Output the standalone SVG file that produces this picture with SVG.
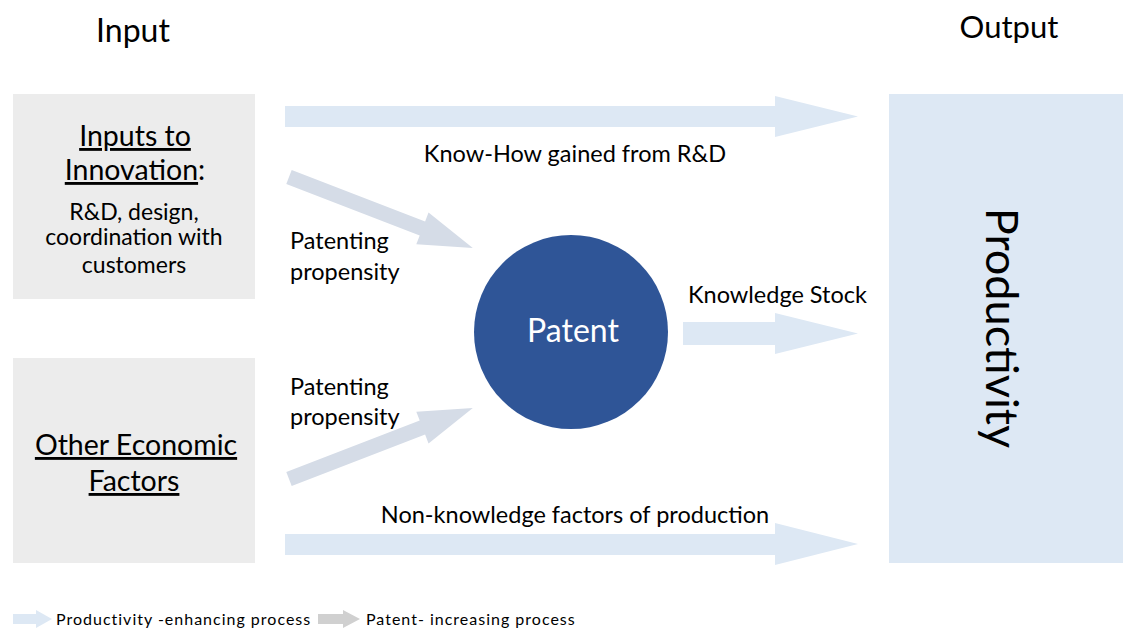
<svg xmlns="http://www.w3.org/2000/svg" width="1123" height="628" viewBox="0 0 1123 628">
  <defs>
    <style>
      text { font-family: Lato, "Noto Sans", "Liberation Sans", sans-serif; fill: #000; }
      .box { fill: #ececec; }
      .big { font-size: 28.5px; }
      .ul { text-decoration: underline; }
      .mid { font-size: 23px; }
      .lbl { font-size: 23.5px; }
      .leg { font-size: 16px; letter-spacing: 1px; }
      .flow { fill: #dde8f4; }
      .pat { fill: #d5dce7; }
      .patleg { fill: #d0d0d0; }
    </style>
  </defs>
  <rect width="1123" height="628" fill="#ffffff"/>

  <text x="133" y="42" text-anchor="middle" style="font-size:32px">Input</text>
  <text x="1009" y="38" text-anchor="middle" style="font-size:31px">Output</text>

  <g id="inputs-to-innovation">
    <rect class="box" x="13" y="94" width="242" height="205"/>
    <text class="big ul" x="135" y="146" text-anchor="middle">Inputs to</text>
    <text class="big" x="135" y="180" text-anchor="middle"><tspan class="ul">Innovation</tspan>:</text>
    <text class="mid" x="134" y="220" text-anchor="middle">R&amp;D, design,</text>
    <text class="mid" x="134" y="245" text-anchor="middle">coordination with</text>
    <text class="mid" x="134" y="273" text-anchor="middle">customers</text>
  </g>

  <g id="other-economic-factors">
    <rect class="box" x="13" y="358" width="242" height="205"/>
    <text class="big ul" x="136" y="455" text-anchor="middle">Other Economic</text>
    <text class="big ul" x="134" y="491" text-anchor="middle">Factors</text>
  </g>

  <g id="patent">
    <circle cx="571" cy="332" r="97" fill="#2f5597"/>
    <text x="573" y="342" text-anchor="middle" style="font-size:32px;fill:#ffffff">Patent</text>
  </g>

  <g id="productivity">
    <rect x="889" y="94" width="234" height="469" fill="#dde8f4"/>
    <text x="1003" y="328" text-anchor="middle" dominant-baseline="central" transform="rotate(90 1003 328)" style="font-size:45px">Productivity</text>
  </g>

  <g id="connectors">
    <!-- know-how arrow -->
    <polygon class="flow" points="285,106 775,106 775,96 858,116.5 775,137 775,127 285,127"/>
    <!-- knowledge stock arrow -->
    <polygon class="flow" points="683,322 775,322 775,313 858,333.5 775,354 775,345 683,345"/>
    <!-- non-knowledge factors arrow -->
    <polygon class="flow" points="285,534 775,534 775,523 858,544 775,565 775,555 285,555"/>
    <!-- patenting propensity arrows -->
    <polygon class="pat" transform="translate(289,177) rotate(21.1)" points="0,-7.5 143,-7.5 143,-17 197,0 143,17 143,7.5 0,7.5"/>
    <polygon class="pat" transform="translate(289,479) rotate(-21.1)" points="0,-7.5 143,-7.5 143,-17 197,0 143,17 143,7.5 0,7.5"/>
  </g>

  <g id="labels">
    <text class="lbl" x="575" y="162" text-anchor="middle">Know-How gained from R&amp;D</text>
    <text class="lbl" x="290" y="249">Patenting</text>
    <text class="lbl" x="290" y="280">propensity</text>
    <text class="lbl" x="290" y="395">Patenting</text>
    <text class="lbl" x="290" y="425">propensity</text>
    <text class="lbl" x="688" y="303">Knowledge Stock</text>
    <text class="lbl" x="575" y="523" text-anchor="middle">Non-knowledge factors of production</text>
  </g>

  <g id="legend">
    <polygon class="flow" points="13,614 36,614 36,610 52,619 36,628 36,624 13,624"/>
    <text class="leg" x="56" y="625">Productivity -enhancing process</text>
    <polygon class="patleg" points="318,614 343,614 343,610 360,619 343,628 343,624 318,624"/>
    <text class="leg" x="366" y="625">Patent- increasing process</text>
  </g>
</svg>
